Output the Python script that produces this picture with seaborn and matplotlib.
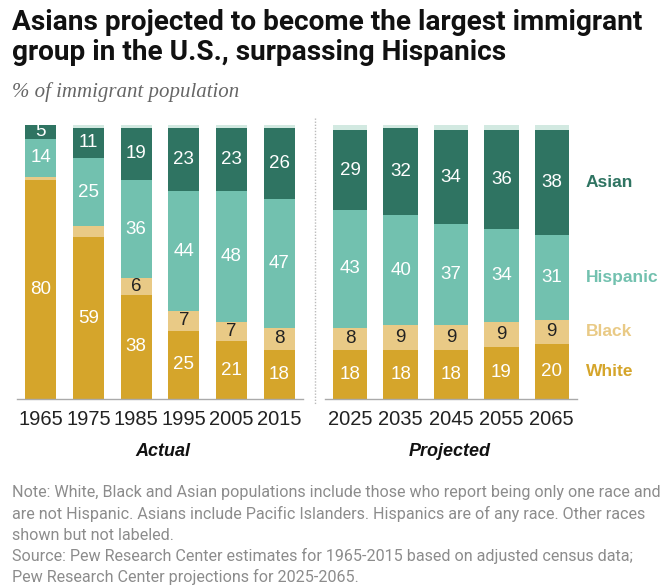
import numpy as np
import pandas as pd
import seaborn as sns
import matplotlib.pyplot as plt
from matplotlib.lines import Line2D

# datos (% de la poblacion inmigrante)
years_actual = ['1965', '1975', '1985', '1995', '2005', '2015']
years_proj = ['2025', '2035', '2045', '2055', '2065']

white = [80, 59, 38, 25, 21, 18, 18, 18, 18, 19, 20]
black = [1, 4, 6, 7, 7, 8, 8, 9, 9, 9, 9]
hispanic = [14, 25, 36, 44, 48, 47, 43, 40, 37, 34, 31]
asian = [5, 11, 19, 23, 23, 26, 29, 32, 34, 36, 38]
other = [0, 1, 1, 1, 1, 1, 2, 1, 2, 2, 2]

groups = ['White', 'Black', 'Hispanic', 'Asian', 'Other']
colors = {'White': '#D5A52B', 'Black': '#E9CA86', 'Hispanic': '#72C1AF',
          'Asian': '#2F7462', 'Other': '#D2E9E1'}
text_colors = {'White': 'white', 'Black': '#222222', 'Hispanic': 'white', 'Asian': 'white'}

title_lines = ['Asians projected to become the largest immigrant',
               'group in the U.S., surpassing Hispanics']
subtitle = '% of immigrant population'
note_lines = [
    'Note: White, Black and Asian populations include those who report being only one race and',
    'are not Hispanic. Asians include Pacific Islanders. Hispanics are of any race. Other races',
    'shown but not labeled.',
    'Source: Pew Research Center estimates for 1965-2015 based on adjusted census data;',
    'Pew Research Center projections for 2025-2065.',
]

years = years_actual + years_proj
df = pd.DataFrame({'year': years, 'White': white, 'Black': black,
                   'Hispanic': hispanic, 'Asian': asian, 'Other': other})
df['period'] = ['Actual'] * len(years_actual) + ['Projected'] * len(years_proj)

sns.set_style('white')
plt.rcParams['font.family'] = ['Liberation Sans', 'DejaVu Sans']

W, H = 670, 588
fig = plt.figure(figsize=(W / 100, H / 100), dpi=100)
renderer = fig.canvas.get_renderer()


def fx(px):
    return px / W


def fy(py):
    return 1 - py / H


def fit_size(t, target_px):
    # ajusta el tamano de letra para que el texto ocupe el ancho del original
    w = t.get_window_extent(renderer).width
    return t.get_fontsize() * target_px / w


ax1 = fig.add_axes([fx(17), fy(399), fx(286), 274 / H])
ax2 = fig.add_axes([fx(325), fy(399), fx(252), 274 / H])


def stacked(ax, sub, width):
    order = list(sub['year'])
    cum = sub[groups].cumsum(axis=1)
    # dibujamos de arriba hacia abajo para que cada capa tape la anterior
    for g in reversed(groups):
        sns.barplot(x=sub['year'], y=cum[g], order=order, color=colors[g],
                    width=width, saturation=1, linewidth=0, errorbar=None, ax=ax)
    # etiquetas en el centro de cada segmento
    for i, (_, row) in enumerate(sub.iterrows()):
        base = 0
        for g in groups[:-1]:
            v = row[g]
            if v >= 5:
                ax.text(i, base + v / 2, str(v), ha='center', va='center',
                        color=text_colors[g], fontsize=13.5)
            base += v
    ax.set_xlim(-0.5, len(order) - 0.5)
    ax.set_ylim(0, 100)
    ax.set_xlabel('')
    ax.set_ylabel('')
    ax.set_yticks([])
    ax.tick_params(axis='x', length=0, pad=8, labelsize=14.5, labelcolor='#222222')
    for s in ['top', 'left', 'right']:
        ax.spines[s].set_visible(False)
    ax.spines['bottom'].set_color('#aaaaaa')
    ax.spines['bottom'].set_linewidth(1)
    return cum


stacked(ax1, df[df['period'] == 'Actual'].reset_index(drop=True), 0.65)
sub2 = df[df['period'] == 'Projected'].reset_index(drop=True)
cum2 = stacked(ax2, sub2, 0.68)

# etiquetas de grupo a la derecha, alineadas con el ultimo bar
last = len(sub2) - 1
prev = 0
for g in groups[:-1]:
    top = cum2[g].iloc[last]
    ax2.text(last + 0.67, (prev + top) / 2, g, ha='left', va='center',
             color=colors[g], fontsize=12.5, fontweight='bold', clip_on=False)
    prev = top

# separador punteado
fig.add_artist(Line2D([fx(315), fx(315)], [fy(118), fy(404)], color='#bbbbbb',
                      lw=1, ls=(0, (1, 1.2))))

fig.text(fx(163), fy(452), 'Actual', ha='center', va='center', fontsize=13,
         fontweight='bold', style='italic', color='#111111')
fig.text(fx(450), fy(452), 'Projected', ha='center', va='center', fontsize=13,
         fontweight='bold', style='italic', color='#111111')

# titulo
t1 = fig.text(fx(12), fy(22), title_lines[0], ha='left', va='center', fontsize=20,
              fontweight='bold', family=['Roboto', 'DejaVu Sans'], color='#111111')
size = fit_size(t1, 628)
t1.set_fontsize(size)
fig.text(fx(12), fy(53), title_lines[1], ha='left', va='center', fontsize=size,
         fontweight='bold', family=['Roboto', 'DejaVu Sans'], color='#111111')

fig.text(fx(12), fy(92), subtitle, ha='left', va='center', fontsize=15,
         style='italic', family=['Liberation Serif', 'DejaVu Serif'], color='#666666')

# nota y fuente
notes = []
for k, line in enumerate(note_lines):
    notes.append(fig.text(fx(12), fy(493 + 21 * k), line, ha='left', va='center',
                          fontsize=12, family=['Roboto', 'DejaVu Sans'], color='#8c8c8c'))
nsize = fit_size(notes[0], 646)
for t in notes:
    t.set_fontsize(nsize)

fig.savefig('out.png', dpi=100)
